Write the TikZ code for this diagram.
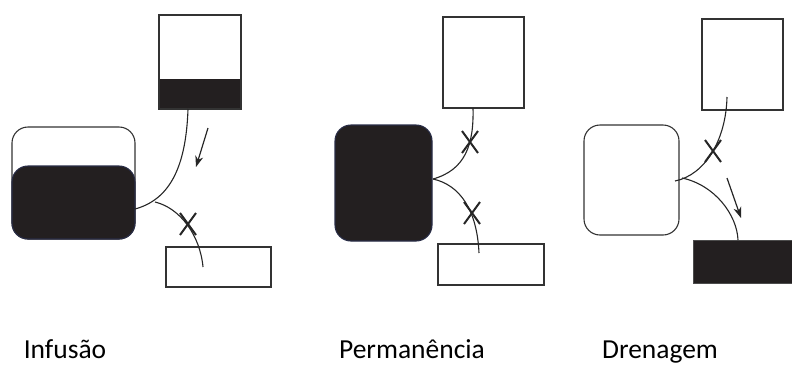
\documentclass[tikz,border=0pt]{standalone}
\usepackage{fontspec}
\setmainfont{Carlito}
\usetikzlibrary{shapes.misc,arrows.meta}
\definecolor{ink}{RGB}{35,31,32}
\definecolor{rim}{RGB}{40,44,70}
\tikzset{
  box/.style={draw=black!80, line width=1.1pt, rectangle, inner sep=0pt},
  bag/.style={draw=black!80, line width=1.1pt, rectangle, rounded corners=16pt, inner sep=0pt},
  fluid/.style={fill=ink, draw=rim, line width=1.1pt},
  tube/.style={draw=black!85, line width=1.1pt},
  clamp/.style={cross out, draw=black!85, line width=2pt, minimum width=14pt, minimum height=20pt, inner sep=0pt},
  flow/.style={draw=black!85, line width=1.2pt, -{Stealth[length=11pt,width=8pt,inset=3.5pt]}},
  caption/.style={anchor=base, inner sep=0pt, font=\fontsize{27.5}{32}\selectfont}
}
\begin{document}
\begin{tikzpicture}[x=1pt,y=-1pt]
\useasboundingbox (0,0) rectangle (792,365);

% ---------- Infusão ----------
\node[bag, minimum width=123pt, minimum height=112pt] (r1o) at (73.5,183) {};
\node[bag, fluid, minimum width=123pt, minimum height=73pt] (r1) at (73.5,202.5) {};
\node[rectangle, fill=ink, minimum width=82pt, minimum height=30pt, inner sep=0pt] (t1f) at (200,94) {};
\node[box, minimum width=82pt, minimum height=94pt] (t1) at (200,62) {};
\node[box, minimum width=105pt, minimum height=40pt] (b1) at (218.5,267) {};
\coordinate (s1) at (188,109);
\coordinate (e1) at (135,209);
\coordinate (j1) at (155,202);
\coordinate (d1) at (203,267);
\draw[tube] (s1) .. controls (186,170) and (168,200) .. (e1);
\draw[tube] (j1) .. controls (180,208) and (200,235) .. (d1);
\node[clamp] (x1) at (188,224) {};
\coordinate (a1s) at (208,128);
\coordinate (a1e) at (196,167);
\draw[flow] (a1s) -- (a1e);
\node[caption] (l1) at (65,358) {Infusão};

% ---------- Permanência ----------
\node[bag, fluid, minimum width=97pt, minimum height=116pt] (r2) at (383.5,183) {};
\node[box, minimum width=81pt, minimum height=91pt] (t2) at (483.5,62.5) {};
\node[box, minimum width=106pt, minimum height=41pt] (b2) at (491,264.5) {};
\coordinate (s2) at (473,108);
\coordinate (j2) at (433,179);
\coordinate (d2) at (479,253);
\draw[tube] (s2) .. controls (474,145) and (465,170) .. (j2);
\draw[tube] (j2) .. controls (460,185) and (477,210) .. (d2);
\node[clamp] (x2a) at (470,142) {};
\node[clamp] (x2b) at (472,213) {};
\node[caption] (l2) at (412,358) {Permanência};

% ---------- Drenagem ----------
\node[bag, minimum width=95pt, minimum height=110pt] (r3) at (631.5,180) {};
\node[box, minimum width=81pt, minimum height=91pt] (t3) at (742.5,64.5) {};
\node[rectangle, fill=ink, draw=black!70, line width=0.8pt, minimum width=99pt, minimum height=43pt, inner sep=0pt] (b3) at (742.5,261.5) {};
\coordinate (s3) at (727,97);
\coordinate (j3) at (675,181);
\coordinate (k3) at (682,178);
\coordinate (d3) at (738,240);
\draw[tube] (s3) .. controls (726,140) and (705,175) .. (j3);
\draw[tube] (k3) .. controls (715,185) and (737,215) .. (d3);
\node[clamp] (x3) at (713,151) {};
\coordinate (a3s) at (727,178);
\coordinate (a3e) at (741,218);
\draw[flow] (a3s) -- (a3e);
\node[caption] (l3) at (660,358) {Drenagem};
\end{tikzpicture}
\end{document}
